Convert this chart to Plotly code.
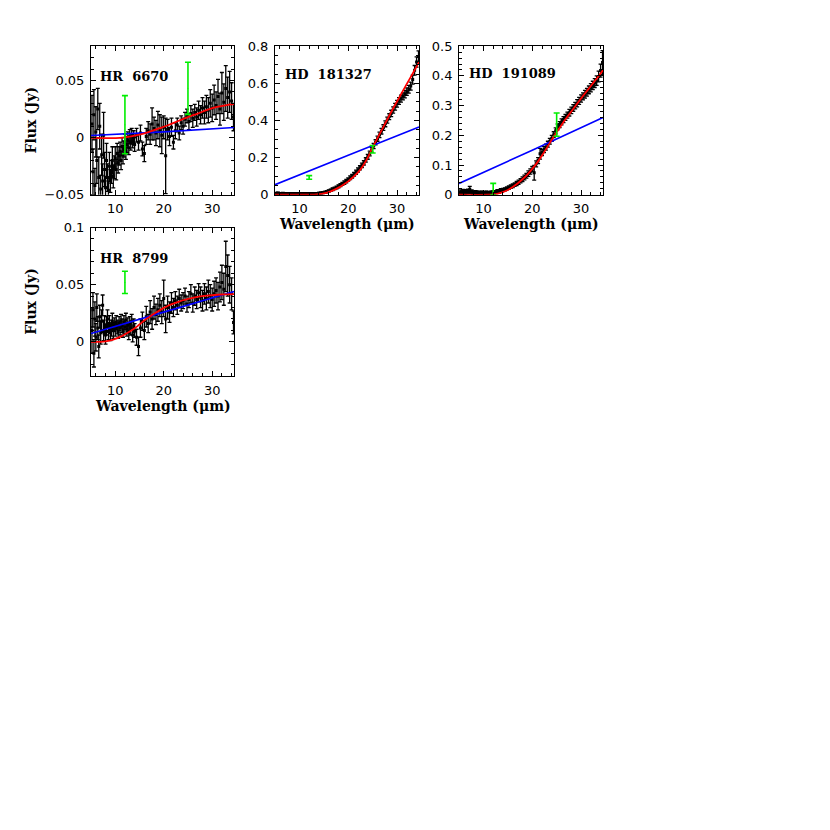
"""
IRS spectra of four debris-disk stars: flux vs wavelength with model fits.
"""
import plotly.graph_objects as go

FONT_TICK = "DejaVu Sans"
FONT_LABEL = "DejaVu Serif"

C_DATA = "black"
C_RED = "#ff0000"
C_BLUE = "#0000ff"
C_GREEN = "#00ee00"

# ── Shared wavelength grid (µm) ──────────────────────────────────────────────
WAVE = [5.2, 5.4, 5.6, 5.8, 6.0, 6.2, 6.4, 6.6, 6.8, 7.0,
        7.2, 7.4, 7.6, 7.8, 8.0, 8.2, 8.4, 8.6, 8.8, 9.0,
        9.2, 9.4, 9.6, 9.8, 10.0, 10.2, 10.4, 10.6, 10.8, 11.0,
        11.2, 11.4, 11.6, 11.8, 12.0, 12.2, 12.4, 12.6, 12.8, 13.0,
        13.2, 13.4, 13.6, 13.8, 14.0,
        14.4, 14.8, 15.2, 15.6, 16.0, 16.4, 16.8, 17.2, 17.6, 18.0,
        18.4, 18.8, 19.2, 19.6, 20.0, 20.4, 20.8, 21.2, 21.6, 22.0,
        22.4, 22.8, 23.2, 23.6, 24.0, 24.4, 24.8, 25.2, 25.6, 26.0,
        26.4, 26.8, 27.2, 27.6, 28.0, 28.4, 28.8, 29.2, 29.6, 30.0,
        30.4, 30.8, 31.2, 31.6, 32.0, 32.4, 32.8, 33.2, 33.6, 34.0,
        34.4]

# ── HR 6670 ──────────────────────────────────────────────────────────────────
hr6670_flux = [0.012, -0.030, 0.020, -0.042, 0.005, -0.020, 0.025, -0.035, 0.010, -0.045,
               -0.015, -0.038, 0.002, -0.028, -0.044, -0.020, -0.035, -0.046, -0.025, -0.038,
               -0.030, -0.020, -0.034, -0.026, -0.018, -0.028, -0.014, -0.022, -0.016, -0.012,
               -0.020, -0.008, -0.015, -0.010, -0.004, -0.012, -0.006, -0.002, -0.009, 0.001,
               -0.005, 0.002, -0.003, 0.000, -0.006,
               0.002, -0.004, 0.004, -0.010, -0.014, 0.001, 0.006, 0.003, 0.012, 0.008,
               0.004, 0.011, 0.006, 0.002, 0.009, -0.016, 0.007, 0.001, 0.009, -0.004,
               0.006, 0.011, 0.004, 0.013, 0.010, 0.016, 0.019, 0.014, 0.021, 0.017,
               0.022, 0.018, 0.024, 0.020, 0.026, 0.022, 0.027, 0.024, 0.030, 0.026,
               0.033, 0.028, 0.036, 0.025, 0.039, 0.031, 0.043, 0.035, 0.040, 0.032,
               0.018]
hr6670_err = [0.025, 0.020, 0.022, 0.015, 0.022, 0.020, 0.018, 0.018, 0.020, 0.012,
              0.018, 0.015, 0.020, 0.015, 0.010, 0.015, 0.012, 0.008, 0.012, 0.010,
              0.010, 0.012, 0.010, 0.010, 0.010, 0.009, 0.009, 0.009, 0.008, 0.008,
              0.008, 0.008, 0.008, 0.007, 0.007, 0.007, 0.007, 0.007, 0.006, 0.006,
              0.006, 0.006, 0.006, 0.006, 0.006,
              0.006, 0.007, 0.007, 0.006, 0.007, 0.007, 0.008, 0.009, 0.014, 0.010,
              0.011, 0.012, 0.014, 0.016, 0.010, 0.033, 0.009, 0.008, 0.008, 0.006,
              0.007, 0.006, 0.006, 0.006, 0.007, 0.006, 0.006, 0.007, 0.007, 0.008,
              0.007, 0.008, 0.008, 0.008, 0.009, 0.010, 0.010, 0.011, 0.012, 0.012,
              0.013, 0.012, 0.015, 0.014, 0.018, 0.016, 0.020, 0.018, 0.018, 0.016,
              0.012]
hr6670_red_x = [5, 8, 11, 13, 15, 17, 19, 21, 23, 25, 27, 29, 31, 33, 34.5]
hr6670_red_y = [0.0, -0.0005, -0.0003, 0.0008, 0.0025, 0.005, 0.008, 0.011, 0.0145, 0.018,
                0.021, 0.0243, 0.0268, 0.0285, 0.0294]
hr6670_blue_x = [5, 20, 34.5]
hr6670_blue_y = [0.0018, 0.0050, 0.0088]
hr6670_phot_x = [12, 25]
hr6670_phot_y = [0.0113, 0.0431]
hr6670_phot_err = [0.0254, 0.0228]

# ── HD 181327 ────────────────────────────────────────────────────────────────
hd181327_flux = [0.006, 0.004, 0.008, 0.003, 0.005, 0.006, 0.004, 0.007, 0.003, 0.005,
                 0.004, 0.006, 0.003, 0.005, 0.004, 0.005, 0.003, 0.004, 0.005, 0.003,
                 0.004, 0.005, 0.003, 0.004, 0.005, 0.004, 0.003, 0.005, 0.004, 0.004,
                 0.005, 0.004, 0.005, 0.004, 0.005, 0.006, 0.005, 0.004, 0.006, 0.005,
                 0.006, 0.006, 0.007, 0.007, 0.008,
                 0.009, 0.011, 0.013, 0.016, 0.020, 0.024, 0.029, 0.034, 0.039, 0.045,
                 0.051, 0.058, 0.065, 0.073, 0.082, 0.091, 0.100, 0.110, 0.121, 0.133,
                 0.145, 0.158, 0.172, 0.187, 0.204, 0.222, 0.242, 0.262, 0.282, 0.302,
                 0.322, 0.342, 0.362, 0.382, 0.402, 0.420, 0.438, 0.456, 0.474, 0.490,
                 0.505, 0.518, 0.530, 0.542, 0.555, 0.568, 0.585, 0.620, 0.670, 0.715,
                 0.745]
hd181327_err = [0.006, 0.005, 0.006, 0.005, 0.005, 0.005, 0.005, 0.005, 0.004, 0.004,
                0.004, 0.004, 0.004, 0.004, 0.004, 0.004, 0.004, 0.004, 0.004, 0.004,
                0.004, 0.004, 0.004, 0.004, 0.004, 0.004, 0.004, 0.004, 0.004, 0.004,
                0.004, 0.004, 0.004, 0.004, 0.004, 0.004, 0.004, 0.004, 0.004, 0.004,
                0.004, 0.004, 0.004, 0.004, 0.005,
                0.005, 0.005, 0.005, 0.006, 0.006, 0.006, 0.007, 0.007, 0.007, 0.008,
                0.008, 0.008, 0.009, 0.009, 0.009, 0.010, 0.010, 0.010, 0.011, 0.011,
                0.011, 0.012, 0.012, 0.012, 0.013, 0.013, 0.013, 0.014, 0.014, 0.014,
                0.015, 0.015, 0.015, 0.016, 0.016, 0.016, 0.017, 0.017, 0.018, 0.018,
                0.018, 0.019, 0.019, 0.020, 0.020, 0.021, 0.022, 0.024, 0.026, 0.028,
                0.030]
hd181327_red_x = [5, 10, 13, 14, 15, 16, 17, 18, 19, 20, 21, 22, 23, 24, 25, 26, 27, 28,
                  29, 30, 31, 32, 33, 34, 34.5]
hd181327_red_y = [0.0, 0.0, 0.001, 0.003, 0.007, 0.014, 0.025, 0.038, 0.054, 0.072, 0.095, 0.120,
                  0.155, 0.200, 0.255, 0.305, 0.355, 0.405, 0.455, 0.502, 0.550, 0.597, 0.643,
                  0.690, 0.714]
hd181327_blue_x = [5, 20, 34.5]
hd181327_blue_y = [0.054, 0.212, 0.365]
hd181327_phot_x = [12, 25]
hd181327_phot_y = [0.093, 0.245]
hd181327_phot_err = [0.010, 0.020]

# ── HD 191089 ────────────────────────────────────────────────────────────────
hd191089_flux = [0.006, 0.010, 0.004, 0.012, 0.008, 0.005, 0.011, 0.007, 0.013, 0.009,
                 0.018, 0.008, 0.011, 0.005, 0.009, 0.006, 0.010, 0.004, 0.008, 0.006,
                 0.007, 0.005, 0.008, 0.004, 0.006, 0.007, 0.005, 0.008, 0.004, 0.006,
                 0.007, 0.005, 0.008, 0.006, 0.009, 0.007, 0.010, 0.008, 0.011, 0.012,
                 0.010, 0.013, 0.015, 0.014, 0.016,
                 0.018, 0.021, 0.024, 0.027, 0.030, 0.034, 0.038, 0.042, 0.047, 0.052,
                 0.058, 0.064, 0.071, 0.078, 0.086, 0.074, 0.104, 0.115, 0.138, 0.142,
                 0.152, 0.160, 0.170, 0.180, 0.190, 0.202, 0.215, 0.228, 0.236, 0.245,
                 0.253, 0.260, 0.268, 0.276, 0.284, 0.292, 0.300, 0.308, 0.316, 0.324,
                 0.331, 0.338, 0.345, 0.353, 0.360, 0.368, 0.376, 0.384, 0.398, 0.418,
                 0.445]
hd191089_err = [0.006, 0.006, 0.005, 0.006, 0.006, 0.005, 0.006, 0.005, 0.006, 0.005,
                0.010, 0.005, 0.005, 0.004, 0.004, 0.004, 0.004, 0.004, 0.004, 0.004,
                0.004, 0.004, 0.004, 0.004, 0.004, 0.004, 0.004, 0.004, 0.004, 0.004,
                0.004, 0.004, 0.004, 0.004, 0.004, 0.004, 0.004, 0.004, 0.005, 0.005,
                0.005, 0.005, 0.005, 0.005, 0.005,
                0.005, 0.005, 0.006, 0.006, 0.006, 0.006, 0.007, 0.007, 0.007, 0.008,
                0.008, 0.008, 0.009, 0.009, 0.009, 0.025, 0.010, 0.010, 0.018, 0.010,
                0.010, 0.010, 0.010, 0.010, 0.010, 0.010, 0.010, 0.010, 0.010, 0.010,
                0.010, 0.010, 0.010, 0.011, 0.011, 0.011, 0.011, 0.012, 0.012, 0.012,
                0.012, 0.013, 0.013, 0.013, 0.014, 0.014, 0.015, 0.016, 0.018, 0.022,
                0.040]
hd191089_red_x = [5, 11, 12, 13, 14, 15, 16, 17, 18, 19, 20, 21, 22, 23, 24, 25, 26, 27, 28,
                  29, 30, 31, 32, 33, 34, 34.5]
hd191089_red_y = [0.0, 0.0, 0.001, 0.004, 0.009, 0.016, 0.026, 0.038, 0.052, 0.068, 0.087, 0.108,
                  0.132, 0.158, 0.185, 0.210, 0.235, 0.258, 0.280, 0.302, 0.324, 0.345, 0.366,
                  0.387, 0.408, 0.420]
hd191089_blue_x = [5, 20, 34.5]
hd191089_blue_y = [0.038, 0.150, 0.260]
hd191089_phot_x = [12, 25]
hd191089_phot_y = [0.019, 0.236]
hd191089_phot_err = [0.019, 0.039]

# ── HR 8799 ──────────────────────────────────────────────────────────────────
hr8799_flux = [0.010, 0.028, -0.010, 0.020, 0.004, 0.030, 0.012, -0.004, 0.022, 0.008,
               0.018, 0.032, 0.010, 0.015, 0.006, 0.014, 0.020, 0.009, 0.016, 0.008,
               0.012, 0.018, 0.010, 0.015, 0.011, 0.017, 0.013, 0.009, 0.016, 0.012,
               0.018, 0.014, 0.010, 0.017, 0.013, 0.019, 0.011, 0.015, 0.008, 0.016,
               0.012, 0.018, 0.006, 0.014, 0.010,
               0.004, -0.004, 0.012, 0.018, 0.010, 0.022, 0.016, 0.026, 0.020, 0.030,
               0.024, 0.028, 0.032, 0.026, 0.038, 0.020, 0.030, 0.026, 0.034, 0.030,
               0.036, 0.032, 0.038, 0.034, 0.036, 0.040, 0.033, 0.037, 0.042, 0.034,
               0.040, 0.037, 0.043, 0.039, 0.036, 0.042, 0.038, 0.044, 0.040, 0.037,
               0.042, 0.045, 0.040, 0.048, 0.052, 0.046, 0.066, 0.058, 0.050, 0.042,
               0.017]
hr8799_err = [0.020, 0.015, 0.012, 0.015, 0.012, 0.012, 0.010, 0.010, 0.010, 0.010,
              0.010, 0.009, 0.009, 0.008, 0.008, 0.008, 0.008, 0.007, 0.007, 0.007,
              0.007, 0.007, 0.007, 0.006, 0.006, 0.006, 0.006, 0.006, 0.006, 0.006,
              0.006, 0.006, 0.006, 0.006, 0.006, 0.006, 0.006, 0.006, 0.006, 0.006,
              0.006, 0.006, 0.006, 0.006, 0.006,
              0.007, 0.008, 0.008, 0.008, 0.008, 0.009, 0.008, 0.010, 0.009, 0.010,
              0.009, 0.010, 0.010, 0.010, 0.016, 0.012, 0.010, 0.009, 0.009, 0.008,
              0.008, 0.008, 0.008, 0.007, 0.007, 0.007, 0.007, 0.007, 0.008, 0.008,
              0.008, 0.008, 0.008, 0.009, 0.009, 0.009, 0.010, 0.010, 0.010, 0.010,
              0.011, 0.011, 0.012, 0.013, 0.015, 0.014, 0.022, 0.018, 0.016, 0.014,
              0.010]
hr8799_red_x = [5, 7, 8, 9, 10, 11, 12, 13, 14, 15, 16, 17, 18, 19, 20, 21, 22, 23, 24, 25,
                26, 27, 28, 29, 30, 31, 32, 33, 34.5]
hr8799_red_y = [0.0, 0.0, 0.0004, 0.0012, 0.0026, 0.0044, 0.0066, 0.009, 0.0118, 0.0152, 0.0186,
                0.0216, 0.0245, 0.0272, 0.0297, 0.0318, 0.0335, 0.035, 0.0364, 0.0375, 0.0385,
                0.0393, 0.040, 0.0405, 0.0409, 0.0412, 0.0414, 0.0416, 0.0418]
hr8799_blue_x = [5, 20, 34.5]
hr8799_blue_y = [0.0073, 0.0260, 0.0440]
hr8799_phot_x = [12]
hr8799_phot_y = [0.052]
hr8799_phot_err = [0.0097]

# ── Panel setup ──────────────────────────────────────────────────────────────
ROW1_Y = [0.7795, 0.9617]
ROW2_Y = [0.5569, 0.7392]
COL1_X = [0.1000, 0.2723]
COL2_X = [0.3217, 0.4952]
COL3_X = [0.5434, 0.7169]

PANELS = [
    dict(name="HR  6670", flux=hr6670_flux, err=hr6670_err,
         red=(hr6670_red_x, hr6670_red_y), blue=(hr6670_blue_x, hr6670_blue_y),
         phot=(hr6670_phot_x, hr6670_phot_y, hr6670_phot_err),
         yrange=[-0.05, 0.08], dtick=0.05, minor=0.01,
         xdom=COL1_X, ydom=ROW1_Y, lab=(0.05, 0.794), xtitle=False, ytitle=True),
    dict(name="HD  181327", flux=hd181327_flux, err=hd181327_err,
         red=(hd181327_red_x, hd181327_red_y), blue=(hd181327_blue_x, hd181327_blue_y),
         phot=(hd181327_phot_x, hd181327_phot_y, hd181327_phot_err),
         yrange=[0, 0.8], dtick=0.2, minor=0.05,
         xdom=COL2_X, ydom=ROW1_Y, lab=(0.055, 0.812), xtitle=True, ytitle=False),
    dict(name="HD  191089", flux=hd191089_flux, err=hd191089_err,
         red=(hd191089_red_x, hd191089_red_y), blue=(hd191089_blue_x, hd191089_blue_y),
         phot=(hd191089_phot_x, hd191089_phot_y, hd191089_phot_err),
         yrange=[0, 0.5], dtick=0.1, minor=0.02,
         xdom=COL3_X, ydom=ROW1_Y, lab=(0.055, 0.819), xtitle=True, ytitle=False),
    dict(name="HR  8799", flux=hr8799_flux, err=hr8799_err,
         red=(hr8799_red_x, hr8799_red_y), blue=(hr8799_blue_x, hr8799_blue_y),
         phot=(hr8799_phot_x, hr8799_phot_y, hr8799_phot_err),
         yrange=[-0.03, 0.1], dtick=0.05, minor=0.01,
         xdom=COL1_X, ydom=ROW2_Y, lab=(0.05, 0.792), xtitle=True, ytitle=True),
]

X_RANGE = [5, 34.5]

fig = go.Figure()

axis_common = dict(
    showline=True, linecolor="black", linewidth=1, mirror="allticks",
    ticks="inside", ticklen=5, tickwidth=1, tickcolor="black",
    showgrid=False, zeroline=False,
    tickfont=dict(family=FONT_TICK, size=13, color="black"),
)

annotations = []
for i, p in enumerate(PANELS, start=1):
    sfx = "" if i == 1 else str(i)
    xa, ya = f"x{sfx}", f"y{sfx}"

    fig.add_trace(go.Scatter(
        x=WAVE, y=p["flux"], mode="markers", xaxis=xa, yaxis=ya,
        marker=dict(size=3, color=C_DATA, symbol="square"),
        error_y=dict(type="data", array=p["err"], color=C_DATA, thickness=1.3, width=2),
        showlegend=False,
    ))
    fig.add_trace(go.Scatter(
        x=p["blue"][0], y=p["blue"][1], mode="lines", xaxis=xa, yaxis=ya,
        line=dict(color=C_BLUE, width=1.6, shape="spline"), showlegend=False,
    ))
    fig.add_trace(go.Scatter(
        x=p["red"][0], y=p["red"][1], mode="lines", xaxis=xa, yaxis=ya,
        line=dict(color=C_RED, width=1.8, shape="spline"), showlegend=False,
    ))
    fig.add_trace(go.Scatter(
        x=p["phot"][0], y=p["phot"][1], mode="markers", xaxis=xa, yaxis=ya,
        marker=dict(size=1, color=C_GREEN),
        error_y=dict(type="data", array=p["phot"][2], color=C_GREEN, thickness=1.6, width=3),
        showlegend=False,
    ))

    fig.update_layout(**{
        f"xaxis{sfx}": dict(
            axis_common, domain=p["xdom"], anchor=ya, range=X_RANGE,
            tick0=0, dtick=10, ticklabelstandoff=2,
            minor=dict(ticks="inside", ticklen=3, tickcolor="black", dtick=2, tick0=0),
        ),
        f"yaxis{sfx}": dict(
            axis_common, domain=p["ydom"], anchor=xa, range=p["yrange"],
            tick0=0, dtick=p["dtick"], ticklabelstandoff=3,
            minor=dict(ticks="inside", ticklen=3, tickcolor="black", dtick=p["minor"], tick0=0),
        ),
    })

    annotations.append(dict(
        text=f"<b>{p['name']}</b>", xref=f"{xa} domain", yref=f"{ya} domain",
        x=p["lab"][0], y=p["lab"][1], xanchor="left", yanchor="middle", showarrow=False,
        font=dict(family=FONT_LABEL, size=13, color="black"),
    ))
    if p["xtitle"]:
        annotations.append(dict(
            text="<b>Wavelength (μm)</b>", xref=f"{xa} domain", yref=f"{ya} domain",
            x=0.5, y=-0.2, xanchor="center", yanchor="middle", showarrow=False,
            font=dict(family=FONT_LABEL, size=14, color="black"),
        ))
    if p["ytitle"]:
        annotations.append(dict(
            text="<b>Flux (Jy)</b>", xref="paper", yref=f"{ya} domain",
            x=23 / 830, y=0.5, xanchor="center", yanchor="middle", showarrow=False,
            textangle=-90,
            font=dict(family=FONT_LABEL, size=14, color="black"),
        ))

fig.update_layout(
    width=830, height=830,
    margin=dict(l=0, r=0, t=0, b=0),
    paper_bgcolor="white", plot_bgcolor="white",
    showlegend=False,
    annotations=annotations,
)

fig.write_html("out.html")
